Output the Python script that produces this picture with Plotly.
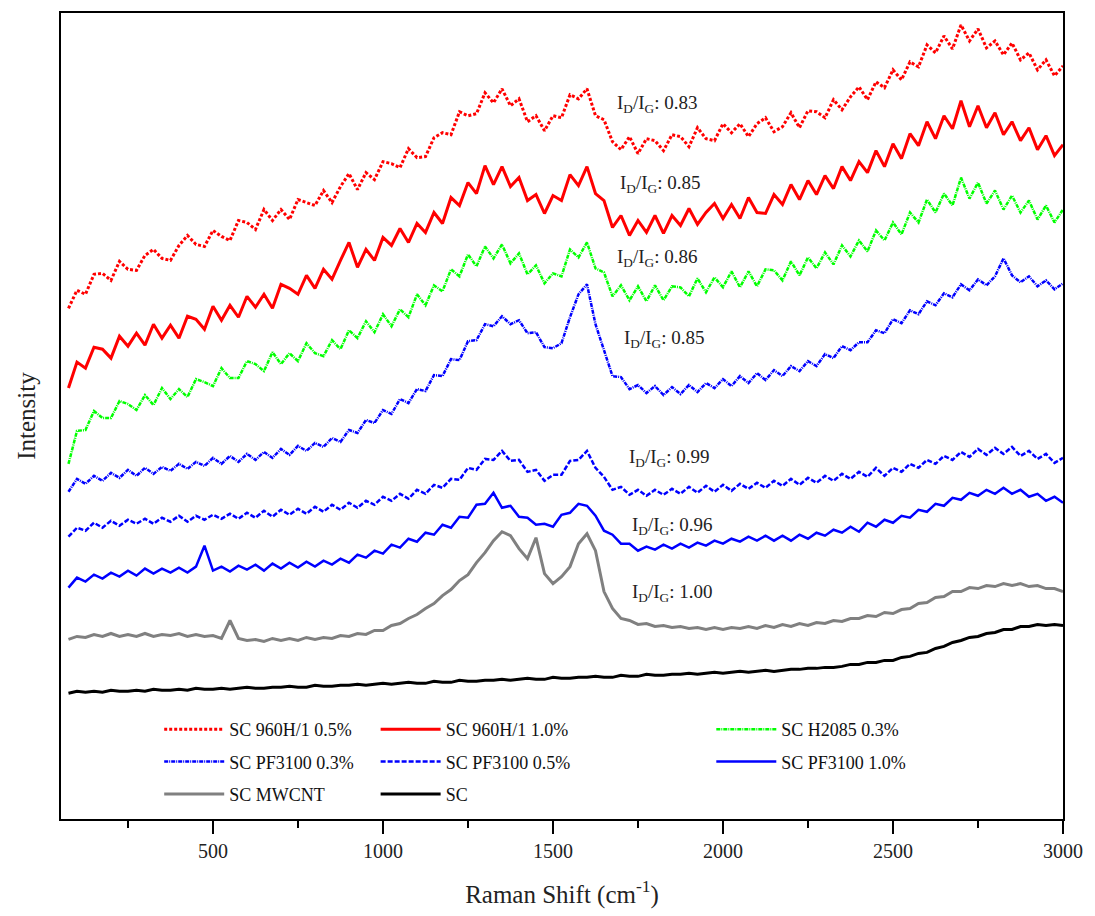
import plotly.graph_objects as go

# Raman shift grid (cm^-1)
raman_shift = list(range(75, 3001, 25))

# Spectra, arbitrary intensity units (stacked offsets included)
sc_960h_05 = [
    512, 530, 526, 546, 547, 540, 559, 551, 550, 565,
    571, 562, 560, 575, 585, 576, 574, 590, 584, 580,
    600, 598, 591, 611, 600, 611, 601, 621, 618, 615,
    630, 618, 634, 647, 631, 648, 641, 659, 657, 653,
    672, 663, 664, 683, 688, 686, 709, 705, 707, 728,
    718, 732, 715, 722, 699, 705, 690, 705, 703, 726,
    722, 732, 705, 701, 679, 671, 684, 667, 682, 680,
    670, 686, 684, 674, 693, 682, 680, 697, 688, 697,
    684, 697, 703, 689, 694, 708, 693, 710, 709, 703,
    721, 711, 724, 734, 721, 739, 733, 751, 741, 759,
    754, 776, 768, 785, 772, 796, 780, 792, 773, 780,
    766, 778, 761, 768, 751, 761, 745, 755,
]
sc_960h_10 = [
    432, 458, 452, 473, 471, 462, 484, 474, 487, 475,
    496, 482, 495, 482, 504, 501, 491, 514, 500, 515,
    503, 524, 513, 526, 512, 536, 532, 526, 545, 532,
    551, 541, 560, 578, 553, 571, 560, 583, 575, 592,
    578, 597, 588, 608, 597, 623, 615, 638, 627, 655,
    636, 654, 634, 643, 620, 626, 607, 625, 620, 646,
    635, 654, 627, 620, 593, 605, 585, 600, 588, 605,
    587, 605, 595, 612, 596, 608, 617, 602, 616, 602,
    623, 608, 607, 626, 616, 636, 621, 640, 626, 645,
    632, 654, 640, 659, 648, 670, 654, 677, 662, 687,
    675, 699, 682, 705, 692, 720, 694, 715, 693, 708,
    686, 699, 680, 693, 671, 685, 665, 676,
]
sc_h2085_03 = [
    356, 389, 390, 409, 402, 402, 419, 416, 410, 425,
    415, 432, 421, 431, 423, 441, 438, 434, 452, 442,
    442, 459, 456, 449, 468, 456, 467, 459, 477, 467,
    464, 480, 471, 490, 482, 499, 488, 506, 494, 511,
    503, 526, 515, 535, 529, 551, 544, 566, 554, 574,
    562, 576, 557, 567, 546, 555, 537, 547, 544, 571,
    563, 578, 552, 548, 524, 535, 520, 534, 519, 535,
    520, 534, 533, 524, 542, 528, 543, 533, 549, 533,
    549, 534, 551, 550, 540, 559, 545, 563, 552, 568,
    556, 575, 564, 580, 569, 590, 580, 598, 586, 608,
    598, 621, 608, 627, 615, 643, 622, 638, 617, 630,
    611, 625, 608, 620, 601, 615, 598, 611,
]
sc_pf3100_03 = [
    328, 341, 336, 344, 339, 347, 342, 350, 344, 352,
    346, 353, 349, 356, 351, 358, 354, 362, 356, 364,
    358, 366, 360, 368, 362, 371, 365, 374, 369, 377,
    373, 382, 378, 390, 387, 400, 397, 410, 406, 421,
    417, 431, 429, 445, 444, 461, 460, 479, 480, 496,
    494, 504, 496, 500, 487, 488, 473, 472, 477, 503,
    526, 536, 496, 469, 444, 443, 431, 435, 427, 434,
    425, 433, 426, 435, 428, 437, 432, 441, 434, 444,
    437, 447, 440, 450, 444, 454, 449, 459, 454, 466,
    462, 474, 470, 478, 478, 490, 487, 501, 497, 510,
    506, 519, 515, 527, 523, 536, 530, 541, 535, 544,
    562, 545, 538, 544, 534, 540, 531, 537,
]
sc_pf3100_05 = [
    283, 292, 289, 297, 292, 299, 294, 300, 296, 301,
    296, 302, 298, 304, 298, 304, 300, 305, 301, 306,
    301, 307, 302, 309, 303, 310, 305, 311, 306, 313,
    308, 315, 310, 317, 312, 319, 315, 323, 319, 326,
    321, 330, 326, 335, 332, 341, 340, 352, 350, 361,
    360, 369, 359, 360, 348, 350, 339, 345, 345, 359,
    360, 369, 352, 343, 330, 333, 325, 330, 324, 330,
    325, 331, 326, 333, 327, 334, 328, 335, 329, 336,
    331, 337, 332, 339, 334, 341, 335, 342, 337, 344,
    339, 346, 341, 348, 343, 352, 344, 352, 348, 356,
    352, 360, 356, 364, 360, 368, 363, 371, 365, 372,
    366, 373, 364, 369, 361, 366, 357, 362,
]
sc_pf3100_10 = [
    232, 242, 238, 245, 241, 247, 243, 249, 244, 251,
    246, 251, 247, 252, 247, 253, 274, 249, 253, 248,
    254, 250, 255, 249, 256, 251, 257, 252, 258, 253,
    259, 255, 261, 257, 265, 262, 269, 266, 275, 272,
    281, 278, 287, 285, 295, 292, 303, 302, 315, 316,
    327, 312, 314, 303, 302, 295, 296, 293, 305, 307,
    316, 314, 304, 289, 285, 276, 276, 269, 273, 270,
    275, 271, 276, 272, 277, 274, 279, 276, 281, 278,
    283, 279, 284, 279, 284, 279, 285, 281, 287, 284,
    290, 287, 293, 288, 297, 293, 300, 297, 304, 302,
    310, 308, 316, 314, 322, 320, 327, 324, 330, 326,
    332, 326, 330, 323, 326, 319, 323, 317,
]
sc_mwcnt = [
    180, 183, 182, 185, 183, 186, 183, 185, 183, 186,
    183, 185, 184, 186, 183, 185, 183, 184, 181, 199,
    181, 179, 180, 178, 181, 179, 181, 179, 182, 180,
    182, 181, 184, 183, 186, 185, 189, 189, 194, 196,
    201, 205, 211, 216, 224, 230, 239, 245, 257, 267,
    279, 288, 284, 271, 261, 282, 246, 236, 243, 253,
    276, 286, 269, 228, 211, 201, 199, 195, 196, 193,
    194, 192, 193, 191, 192, 190, 192, 190, 192, 191,
    193, 191, 194, 192, 195, 193, 196, 194, 197, 196,
    199, 198, 201, 201, 204, 203, 207, 206, 210, 211,
    216, 217, 222, 223, 228, 228, 232, 231, 234, 233,
    236, 234, 236, 233, 234, 231, 231, 228,
]
sc_plain = [
    126, 128, 127, 128, 127, 129, 128, 128, 129, 128,
    130, 129, 129, 130, 129, 131, 130, 130, 131, 130,
    131, 132, 131, 131, 132, 132, 133, 132, 132, 134,
    133, 133, 134, 134, 135, 134, 135, 136, 135, 136,
    137, 136, 136, 138, 137, 137, 139, 138, 138, 139,
    139, 140, 139, 140, 141, 140, 140, 142, 141, 141,
    142, 142, 143, 142, 142, 144, 143, 143, 145, 144,
    144, 145, 145, 146, 145, 146, 147, 146, 147, 148,
    147, 148, 149, 148, 149, 150, 150, 151, 151, 152,
    152, 153, 155, 155, 157, 157, 159, 159, 162, 163,
    166, 167, 171, 173, 177, 179, 182, 183, 186, 187,
    190, 190, 193, 193, 195, 194, 195, 194,
]

series_names = [
    "SC 960H/1 0.5%", "SC 960H/1 1.0%", "SC H2085 0.3%",
    "SC PF3100 0.3%", "SC PF3100 0.5%", "SC PF3100 1.0%",
    "SC MWCNT", "SC",
]
series_values = [
    sc_960h_05, sc_960h_10, sc_h2085_03,
    sc_pf3100_03, sc_pf3100_05, sc_pf3100_10,
    sc_mwcnt, sc_plain,
]

# D/G intensity ratios written beside each spectrum
ratio_labels = ["0.83", "0.85", "0.86", "0.85", "0.99", "0.96", "1.00"]

# --- styling -------------------------------------------------------------
SERIF = "Liberation Serif, Times New Roman, serif"
styles = [
    dict(color="#ff0000", width=3, dash="3px,2px"),
    dict(color="#ff0000", width=3, dash="solid"),
    dict(color="#00ff00", width=2.5, dash="4px,1px,1px,1px"),
    dict(color="#0000ff", width=2.5, dash="4px,1px,1px,1px"),
    dict(color="#0000ff", width=2.5, dash="5px,2px"),
    dict(color="#0000ff", width=2.5, dash="solid"),
    dict(color="#808080", width=3, dash="solid"),
    dict(color="#000000", width=3, dash="solid"),
]
legend_slot = ["legend", "legend2", "legend3",
               "legend", "legend2", "legend3",
               "legend", "legend2"]

fig = go.Figure()
for k, (name, vals) in enumerate(zip(series_names, series_values)):
    fig.add_trace(go.Scatter(
        x=raman_shift, y=vals, mode="lines", name=name,
        line=styles[k], legend=legend_slot[k], legendgroup=f"g{k}",
    ))

# ratio annotations (placement in data units)
label_pos = [(1682, 717), (1691, 637), (1682, 562), (1703, 481),
             (1718, 362), (1726, 294), (1726, 227)]
for (lx, ly), r in zip(label_pos, ratio_labels):
    fig.add_annotation(
        x=lx, y=ly, xref="x", yref="y", xanchor="left", yanchor="middle",
        text=f"I<sub>D</sub>/I<sub>G</sub>: {r}", showarrow=False,
        font=dict(family=SERIF, size=19, color="#222222"),
    )

legend_common = dict(
    xanchor="left", yanchor="top", bgcolor="rgba(0,0,0,0)",
    font=dict(family=SERIF, size=18, color="#111111"),
    itemwidth=60, tracegroupgap=6, orientation="v",
)
fig.update_layout(
    width=1095, height=916,
    margin=dict(l=61, r=32, t=11, b=97),
    plot_bgcolor="white", paper_bgcolor="white",
    font=dict(family=SERIF, color="#111111"),
    legend=dict(x=0.098, y=0.134, **legend_common),
    legend2=dict(x=0.314, y=0.134, **legend_common),
    legend3=dict(x=0.649, y=0.134, **legend_common),
    xaxis=dict(
        range=[53, 3000], tick0=0, dtick=500,
        ticks="outside", ticklen=13, tickwidth=2, tickcolor="black",
        minor=dict(dtick=250, ticks="outside", ticklen=7, tickwidth=2, tickcolor="black"),
        showline=True, linewidth=2, linecolor="black", mirror=True,
        showgrid=False, zeroline=False,
        tickfont=dict(family=SERIF, size=20, color="#222222"),
        title=dict(text="Raman Shift (cm<sup>-1</sup>)",
                   font=dict(family=SERIF, size=25, color="#222222"), standoff=24),
    ),
    yaxis=dict(
        range=[0, 808], showticklabels=False, ticks="",
        showline=True, linewidth=2, linecolor="black", mirror=True,
        showgrid=False, zeroline=False,
        title=dict(text="Intensity", font=dict(family=SERIF, size=25, color="#222222"),
                   standoff=16),
    ),
    showlegend=True,
)

fig.write_html("out.html")
